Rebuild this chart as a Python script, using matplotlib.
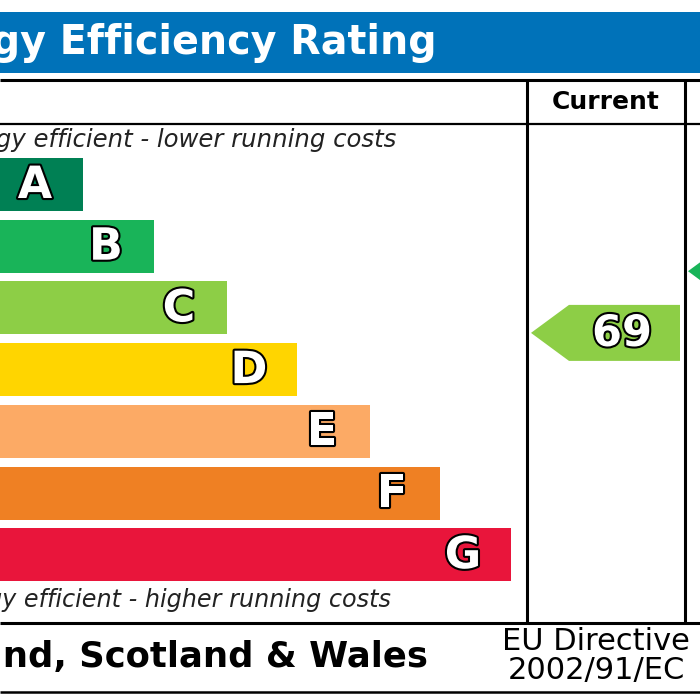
import matplotlib
matplotlib.use('Agg')
import matplotlib.pyplot as plt
import matplotlib.patheffects as pe
from matplotlib.patches import Polygon

# band data
bands = ['A', 'B', 'C', 'D', 'E', 'F', 'G']
band_lengths = [83, 154, 227, 297, 370, 440, 511]
band_low = [92, 81, 69, 55, 39, 21, 1]
band_high = [100, 91, 80, 68, 54, 38, 20]
band_colors = ['#008054', '#19b459', '#8dce46', '#ffd500', '#fcaa65', '#ef8023', '#e9153b']

current_rating = 69
potential_rating = 81

title = 'Energy Efficiency Rating'
top_note = 'Very energy efficient - lower running costs'
bottom_note = 'Not energy efficient - higher running costs'
footer = 'England, Scotland & Wales'
directive = ['EU Directive', '2002/91/EC']

# layout (pixels)
first_top = 158
pitch = 61.7
bar_h = 53
col1_x = 527
col2_x = 685
arrow_h = 56
arrow_tip = 38

plt.rcParams['font.family'] = ['DejaVu Sans']

fig = plt.figure(figsize=(7, 7), dpi=100)
ax = fig.add_axes([0, 0, 1, 1])
ax.set_xlim(0, 700)
ax.set_ylim(700, 0)
ax.axis('off')

outline = [pe.withStroke(linewidth=3, foreground='black')]

# header
ax.add_patch(plt.Rectangle((0, 12), 700, 61, color='#0072b9', lw=0))
ax.text(437, 43, title, color='white', fontsize=28.5, fontweight='bold',
        ha='right', va='center')

# table lines
for y, lw in [(80, 2.2), (124, 1.6), (623, 2.2), (692, 1.8)]:
    ax.plot([0, 700], [y, y], color='black', lw=lw, solid_capstyle='butt')
for x in [col1_x, col2_x]:
    ax.plot([x, x], [80, 623], color='black', lw=2.2, solid_capstyle='butt')
ax.text(606, 102, 'Current', fontsize=18, fontweight='bold', ha='center', va='center')

ax.text(396, 140, top_note, fontsize=17.6, style='italic', ha='right', va='center',
        color='#222222')
ax.text(391, 600, bottom_note, fontsize=17.2, style='italic', ha='right', va='center',
        color='#222222')

# bands
centers = [first_top + i * pitch + bar_h / 2 for i in range(len(bands))]
ax.barh(centers, band_lengths, height=bar_h, left=0, color=band_colors, lw=0)
for c, length, letter in zip(centers, band_lengths, bands):
    ax.text(length - 48, c + 1, letter, color='white', fontsize=32, fontweight='bold',
            ha='center', va='center', path_effects=outline)


def rating_y(rating):
    for i, (lo, hi) in enumerate(zip(band_low, band_high)):
        if lo <= rating <= hi:
            return first_top + i * pitch + (hi - rating) / (hi - lo) * bar_h - 1.5
    return None


def band_color(rating):
    for lo, hi, col in zip(band_low, band_high, band_colors):
        if lo <= rating <= hi:
            return col


def arrow(x_tip, x_right, yc, color, label=None):
    pts = [(x_tip, yc), (x_tip + arrow_tip, yc - arrow_h / 2), (x_right, yc - arrow_h / 2),
           (x_right, yc + arrow_h / 2), (x_tip + arrow_tip, yc + arrow_h / 2)]
    ax.add_patch(Polygon(pts, closed=True, color=color, lw=0))
    if label is not None:
        ax.text(x_right - 58, yc + 1, label, color='white', fontsize=31, fontweight='bold',
                ha='center', va='center', path_effects=outline)


arrow(col1_x + 4, col2_x - 5, rating_y(current_rating), band_color(current_rating),
      str(current_rating))
arrow(col2_x + 3, 900, rating_y(potential_rating), band_color(potential_rating))

# footer
ax.text(428, 657, footer, fontsize=25.5, fontweight='bold', ha='right', va='center')
ax.text(596, 641, directive[0], fontsize=22, ha='center', va='center')
ax.text(596, 670, directive[1], fontsize=22, ha='center', va='center')

fig.savefig('out.png', dpi=100)
